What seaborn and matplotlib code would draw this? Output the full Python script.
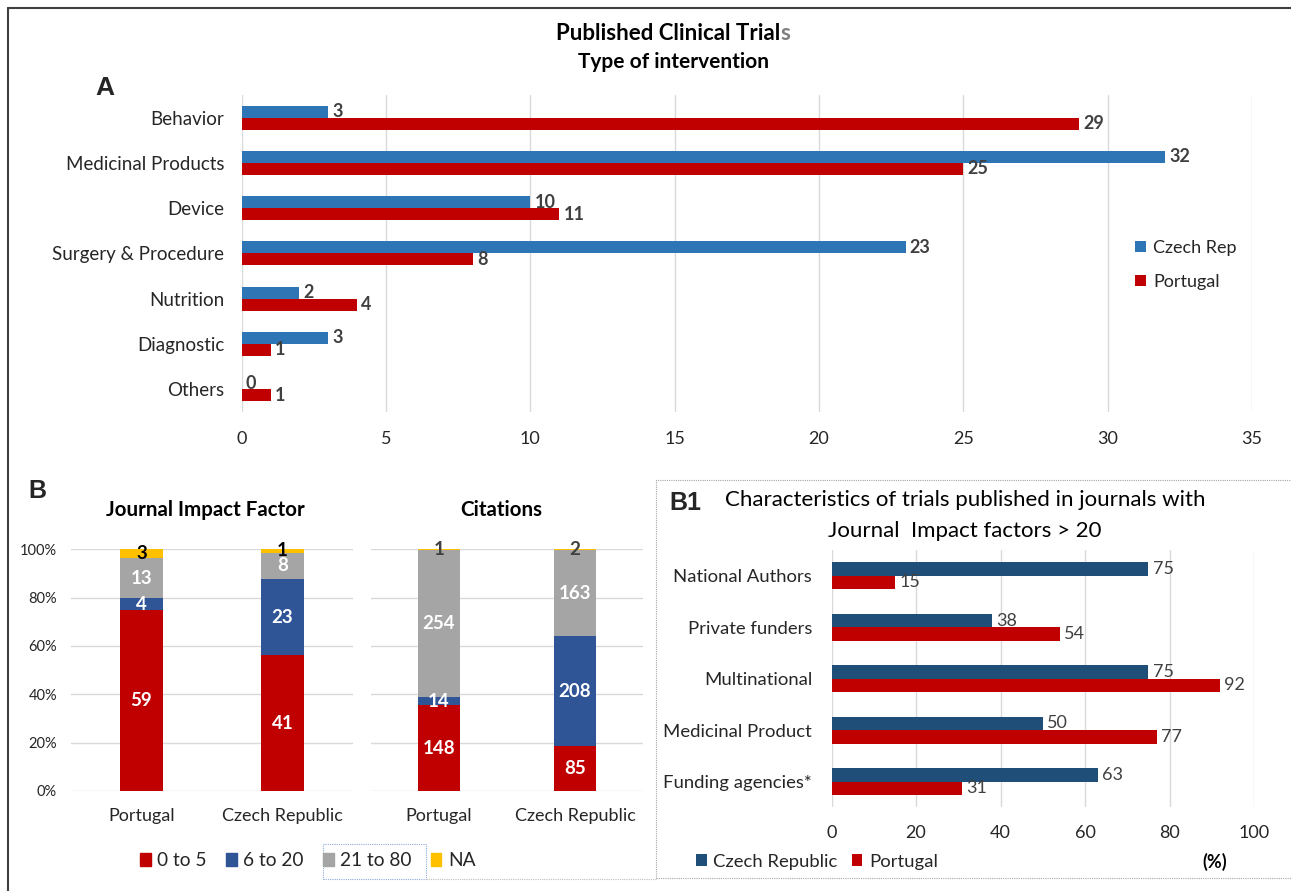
import numpy as np
import pandas as pd
import seaborn as sns
import matplotlib.pyplot as plt
from matplotlib.patches import Patch, Rectangle
from matplotlib.lines import Line2D
from matplotlib.ticker import PercentFormatter

# Painel A - tipo de intervenção
intervencoes = ["Behavior", "Medicinal Products", "Device", "Surgery & Procedure",
                "Nutrition", "Diagnostic", "Others"]
czech_a = [3, 32, 10, 23, 2, 3, 0]
portugal_a = [29, 25, 11, 8, 4, 1, 1]
paises_a = ["Czech Rep", "Portugal"]

# Painel B - fator de impacto e citações (contagens)
paises_b = ["Portugal", "Czech Republic"]
faixas = ["0 to 5", "6 to 20", "21 to 80", "NA"]
jif_portugal = [59, 4, 13, 3]
jif_czech = [41, 23, 8, 1]
cit_portugal = [148, 14, 254, 1]
cit_czech = [85, 208, 163, 2]

# Painel B1 - características (%)
caracteristicas = ["National Authors", "Private funders", "Multinational",
                   "Medicinal Product", "Funding agencies*"]
czech_b1 = [75, 38, 75, 50, 63]
portugal_b1 = [15, 54, 92, 77, 31]
paises_b1 = ["Czech Republic", "Portugal"]

# Cores
azul_a = "#2E75B6"
vermelho = "#C00000"
cores_b = ["#C00000", "#2F5597", "#A5A5A5", "#FFC000"]
azul_b1 = "#1F4E79"
cinza_grid = "#D9D9D9"
cor_txt = "#262626"
cor_val = "#404040"

sns.set_theme(style="white")
plt.rcParams["font.family"] = ["Lato", "DejaVu Sans"]

W, H = 1291, 891
fx = lambda px: px / W
fy = lambda py: 1 - py / H

fig = plt.figure(figsize=(W / 100, H / 100), dpi=100)


def limpar(ax):
    sns.despine(ax=ax, left=True, bottom=True)
    ax.set_xlabel("")
    ax.set_ylabel("")
    ax.set_axisbelow(True)


# ---------------- Painel A ----------------
axA = fig.add_axes([fx(241.7), fy(411.7), fx(1252) - fx(241.7), (411.7 - 95) / H])
df_a = pd.DataFrame({
    "Tipo": intervencoes * 2,
    "Valor": czech_a + portugal_a,
    "Pais": [paises_a[0]] * len(intervencoes) + [paises_a[1]] * len(intervencoes),
})
sns.barplot(data=df_a, y="Tipo", x="Valor", hue="Pais", palette=[azul_a, vermelho],
            orient="h", width=0.53, saturation=1, errorbar=None, linewidth=0, ax=axA)
for c in axA.containers:
    axA.bar_label(c, padding=3, fontweight="bold", color=cor_val, fontsize=13)
axA.set_xlim(0, 35)
axA.set_xticks(np.arange(0, 36, 5))
axA.grid(axis="x", color=cinza_grid, lw=1)
axA.tick_params(axis="y", length=0, pad=12.5, labelsize=13.5, labelcolor=cor_txt)
axA.tick_params(axis="x", length=0, pad=14, labelsize=13, labelcolor=cor_txt)
limpar(axA)
sns.move_legend(axA, "center left", bbox_to_anchor=(fx(1119), fy(265)),
                bbox_transform=fig.transFigure, frameon=False, title=None,
                fontsize=13, handlelength=0.6, handleheight=0.6,
                handletextpad=0.4, labelspacing=1.0)

# título com o "s" final em cinza
kw = dict(fontsize=16, fontweight="bold", va="center", color="black")
r = fig.canvas.get_renderer()
t1 = fig.text(0, fy(33), "Published Clinical Trial", ha="left", **kw)
t2 = fig.text(0, fy(33), "s", ha="left", **{**kw, "color": "#7F7F7F"})
w1 = t1.get_window_extent(r).width
w2 = t2.get_window_extent(r).width
x0 = 673 - (w1 + w2) / 2
t1.set_x(fx(x0))
t2.set_x(fx(x0 + w1))
fig.text(fx(673), fy(62.5), "Type of intervention", ha="center", va="center",
         fontsize=15, fontweight="bold", color="black")
fig.text(fx(104.5), fy(88), "A", ha="center", va="center", fontsize=19,
         fontweight="bold", family="Liberation Sans")


# ---------------- Painel B ----------------
def empilhado(ax, contagens, cor_na):
    tab = pd.DataFrame(contagens, index=paises_b, columns=faixas)
    frac = tab.div(tab.sum(axis=1), axis=0)
    acum = frac.cumsum(axis=1)
    # desenha do topo para baixo, cada camada por cima da anterior
    for faixa, cor in reversed(list(zip(faixas, cores_b))):
        sns.barplot(x=paises_b, y=acum[faixa].values, color=cor, width=0.31,
                    saturation=1, errorbar=None, linewidth=0, ax=ax)
    for i, pais in enumerate(paises_b):
        base = 0
        for j, faixa in enumerate(faixas):
            f = frac.loc[pais, faixa]
            ax.text(i, base + f / 2, str(tab.loc[pais, faixa]), ha="center", va="center",
                    fontsize=13.5, fontweight="bold",
                    color="white" if j < 3 else cor_na, clip_on=False)
            base += f
    ax.set_xlim(-0.5, 1.5)
    ax.set_ylim(0, 1)
    ax.set_yticks(np.arange(0, 1.01, 0.2))
    ax.grid(axis="y", color=cinza_grid, lw=1)
    ax.tick_params(axis="x", length=0, pad=12, labelsize=13, labelcolor=cor_txt)
    ax.tick_params(axis="y", length=0, pad=10, labelsize=10.5, labelcolor=cor_txt)
    limpar(ax)


axJ = fig.add_axes([fx(71), fy(791), (353 - 71) / W, (791 - 549.3) / H])
empilhado(axJ, [jif_portugal, jif_czech], "black")
axJ.yaxis.set_major_formatter(PercentFormatter(1.0, decimals=0))

axC = fig.add_axes([fx(371), fy(791), (643 - 371) / W, (791 - 549.3) / H])
empilhado(axC, [cit_portugal, cit_czech], cor_val)
axC.set_yticklabels([])

fig.text(fx(205), fy(510.5), "Journal Impact Factor", ha="center", va="center",
         fontsize=14.8, fontweight="bold", color="black")
fig.text(fx(501), fy(510), "Citations", ha="center", va="center",
         fontsize=14.8, fontweight="bold", color="black")
fig.text(fx(37), fy(491.5), "B", ha="center", va="center", fontsize=18,
         fontweight="bold", family="Liberation Sans")

fig.legend(handles=[Patch(color=c, label=l) for c, l in zip(cores_b, faixas)],
           loc="center", bbox_to_anchor=(fx(308), fy(860.7)), ncol=4, frameon=False,
           fontsize=13.8, handlelength=0.55, handleheight=0.6, handletextpad=0.35,
           columnspacing=1.0)
fig.add_artist(Rectangle((fx(323), fy(879)), (426 - 323) / W, (879 - 844) / H,
                         transform=fig.transFigure, fill=False, ls=(0, (1, 1)),
                         ec="#8FAADC", lw=0.8))

# ---------------- Painel B1 ----------------
fig.add_artist(Rectangle((fx(655.8), fy(878)), (1300 - 655.8) / W, (878 - 480) / H,
                         transform=fig.transFigure, fill=False, ls=(0, (1, 1)),
                         ec="#A6A6A6", lw=0.8))
fig.add_artist(Line2D([fx(426), fx(655.8)], [fy(879), fy(879)], transform=fig.transFigure,
                      ls=(0, (1, 1)), color="#BFBFBF", lw=0.8))

axB1 = fig.add_axes([fx(831.5), fy(807.4), (1254 - 831.5) / W, (807.4 - 550) / H])
df_b1 = pd.DataFrame({
    "Carac": caracteristicas * 2,
    "Valor": czech_b1 + portugal_b1,
    "Pais": [paises_b1[0]] * len(caracteristicas) + [paises_b1[1]] * len(caracteristicas),
})
sns.barplot(data=df_b1, y="Carac", x="Valor", hue="Pais", palette=[azul_b1, vermelho],
            orient="h", width=0.52, saturation=1, errorbar=None, linewidth=0, ax=axB1)
for c in axB1.containers:
    axB1.bar_label(c, padding=3, color=cor_val, fontsize=13)
axB1.set_xlim(0, 100)
axB1.set_xticks(np.arange(0, 101, 20))
axB1.grid(axis="x", color=cinza_grid, lw=1)
axB1.tick_params(axis="y", length=0, pad=14, labelsize=13.3, labelcolor=cor_txt)
axB1.tick_params(axis="x", length=0, pad=13, labelsize=13, labelcolor=cor_txt)
limpar(axB1)
sns.move_legend(axB1, "center", bbox_to_anchor=(fx(817), fy(861.7)),
                bbox_transform=fig.transFigure, frameon=False, title=None, ncol=2,
                fontsize=13.3, handlelength=0.55, handleheight=0.6,
                handletextpad=0.35, columnspacing=0.8)

fig.text(fx(965), fy(500), "Characteristics of trials published in journals with",
         ha="center", va="center", fontsize=16, color="black")
fig.text(fx(965), fy(531), "Journal  Impact factors > 20",
         ha="center", va="center", fontsize=16, color="black")
fig.text(fx(685.6), fy(503), "B1", ha="center", va="center", fontsize=18,
         fontweight="bold", family="Liberation Sans")
fig.text(fx(1214.7), fy(861.7), "(%)", ha="center", va="center", fontsize=13,
         fontweight="bold", color="black")

# moldura externa
fig.add_artist(Line2D([fx(8), fx(8)], [fy(8), 0], transform=fig.transFigure,
                      color="#404040", lw=1.5))
fig.add_artist(Line2D([fx(8), 1], [fy(8), fy(8)], transform=fig.transFigure,
                      color="#404040", lw=1.5))

fig.savefig("out.png", dpi=100)
